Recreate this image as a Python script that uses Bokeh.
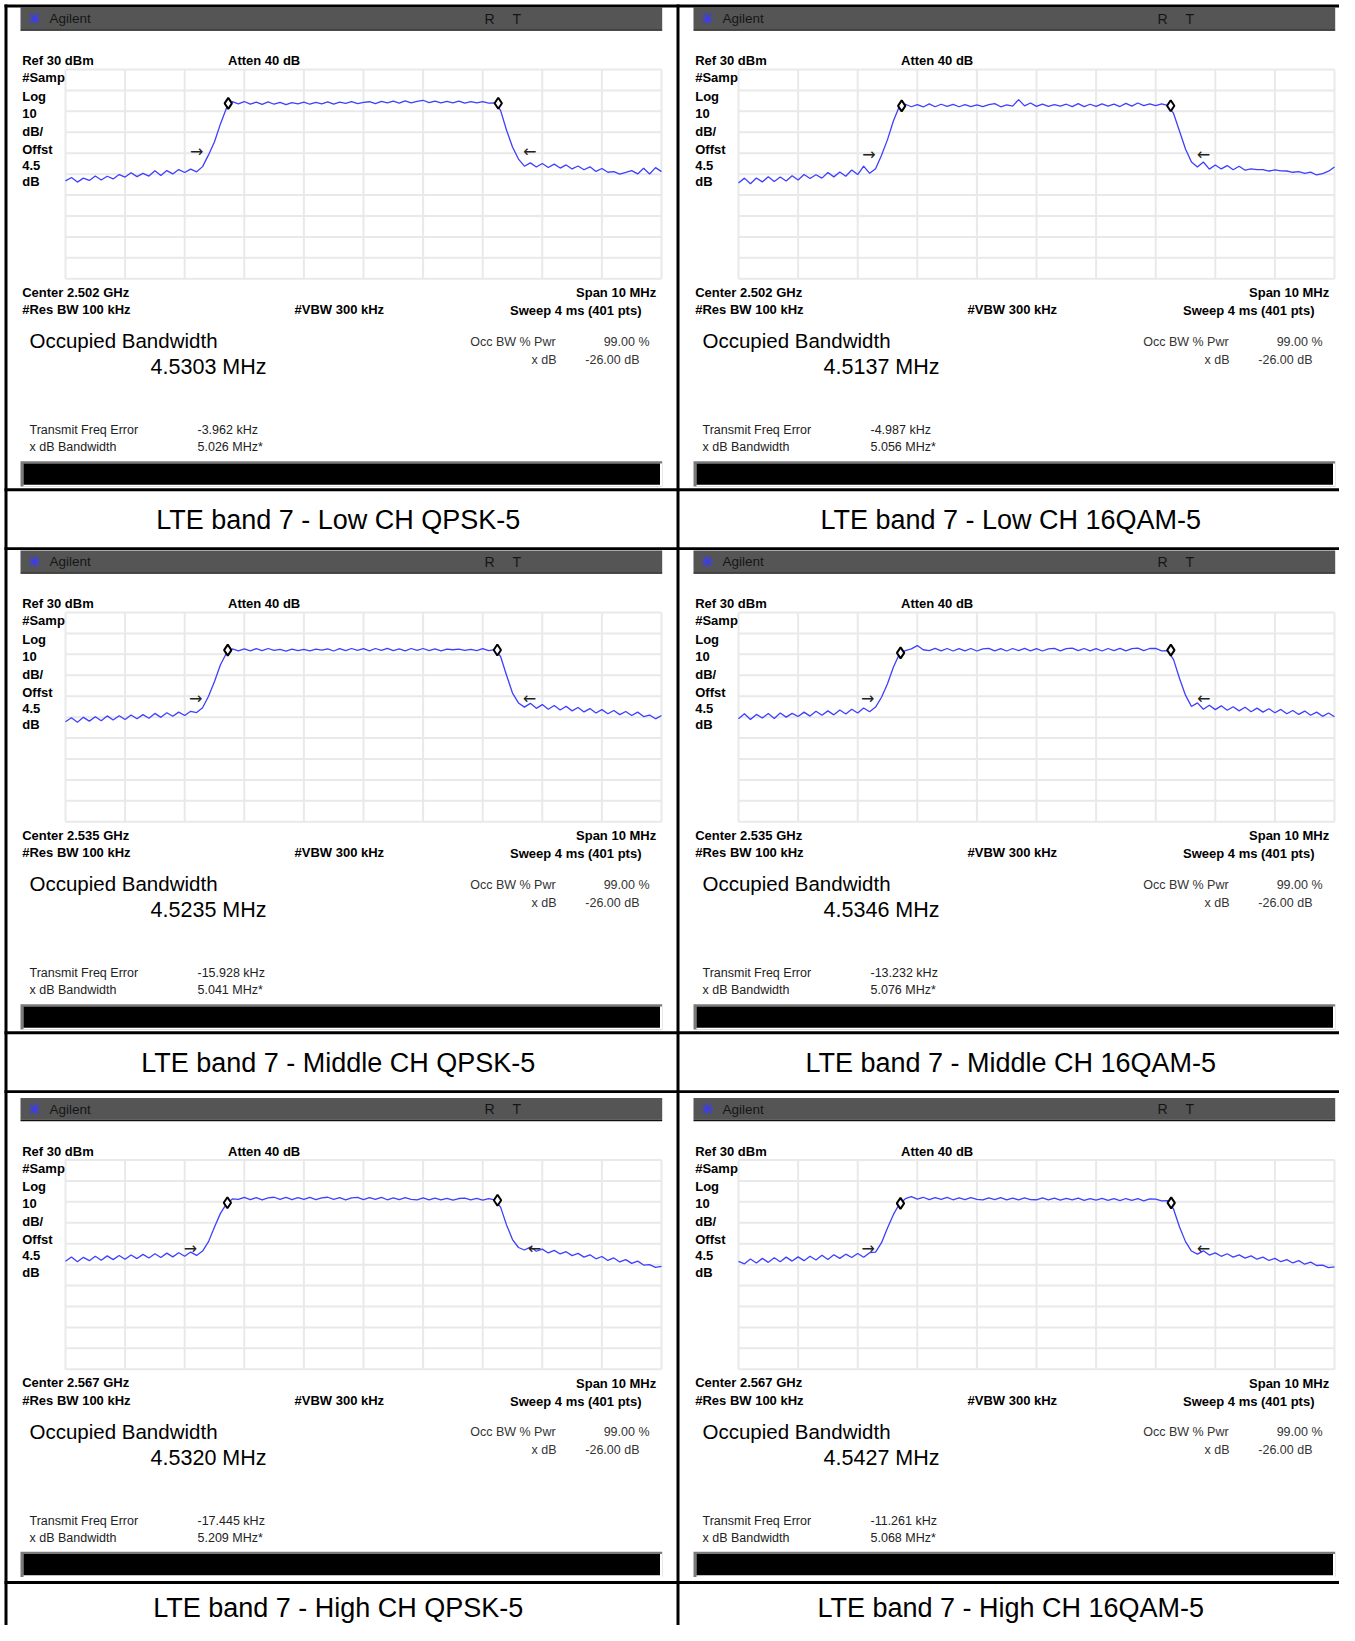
import numpy as np
from bokeh.plotting import figure
from bokeh.models import Range1d, ColumnDataSource
from bokeh.embed import file_html
from bokeh.resources import INLINE
from bokeh.core.properties import value

# ---------------- data ----------------
SPAN_MHZ = 10.0
REF_DBM = 30.0
BOTTOM_DBM = -70.0
FREQ_MHZ = np.round(np.linspace(-5.0, 5.0, 101), 2)   # sweep points (offset from center)

LOW_QPSK = [
    -23.2, -21.6, -23.8, -21.9, -23.0, -20.9, -22.8, -21.0, -22.3, -20.2,
    -21.4, -19.3, -21.2, -19.6, -20.9, -18.4, -20.6, -18.3, -19.9, -17.8,
    -19.2, -17.6, -18.9, -16.4, -10.8, -4.5, 4.0, 11.5, 14.6, 13.6,
    14.7, 13.5, 14.4, 13.3, 14.5, 13.4, 14.3, 13.2, 14.2, 13.6,
    14.4, 13.4, 14.3, 13.6, 14.5, 13.5, 14.4, 13.8, 14.6, 13.7,
    14.3, 14.6, 13.7, 14.8, 14.0, 14.9, 13.9, 15.0, 14.1, 14.8,
    15.3, 14.2, 14.9, 14.0, 14.8, 14.1, 14.9, 13.9, 14.7, 14.0,
    14.6, 13.9, 14.1, 10.5, 1.0, -7.0, -12.8, -16.2, -14.6, -16.6,
    -14.9, -16.8, -15.2, -17.1, -15.6, -17.5, -16.1, -17.9, -16.5, -18.7,
    -17.3, -19.1, -18.8, -20.0, -19.2, -18.3, -19.9, -17.2, -19.9, -16.9,
    -18.8]
LOW_16QAM = [
    -24.2, -21.9, -24.6, -21.8, -23.7, -21.2, -23.5, -21.4, -23.3, -20.8,
    -22.8, -20.2, -22.1, -20.3, -21.9, -19.2, -21.3, -19.0, -21.0, -18.0,
    -20.2, -16.2, -19.6, -17.4, -11.0, -3.5, 5.5, 12.4, 13.4, 12.2,
    13.2, 12.1, 13.6, 12.2, 13.4, 12.4, 13.3, 12.2, 13.2, 12.3,
    13.1, 12.3, 13.2, 13.7, 12.2, 13.1, 12.5, 15.6, 12.6, 14.0,
    12.4, 13.5, 12.4, 13.2, 12.5, 13.4, 12.3, 13.7, 12.3, 13.4,
    12.4, 13.6, 12.5, 13.5, 12.3, 13.8, 12.5, 14.0, 12.7, 13.6,
    12.7, 13.6, 12.9, 9.0, 0.5, -8.0, -14.2, -16.6, -14.2, -17.6,
    -15.6, -17.5, -15.9, -17.9, -16.2, -18.1, -17.5, -17.8, -17.8, -18.5,
    -18.0, -18.4, -18.5, -19.1, -18.8, -19.6, -19.0, -20.4, -19.7, -18.6,
    -16.6]
MID_QPSK = [
    -22.2, -20.3, -22.4, -20.1, -21.9, -19.8, -21.7, -19.4, -21.4, -19.3,
    -21.1, -19.0, -20.8, -18.8, -20.5, -18.2, -20.1, -17.9, -19.6, -17.6,
    -19.2, -17.2, -17.8, -15.5, -10.0, -3.0, 5.0, 10.5, 12.6, 11.7,
    12.6, 11.7, 12.7, 11.8, 12.8, 11.9, 12.4, 11.6, 12.5, 11.8,
    12.4, 11.7, 12.5, 12.0, 12.6, 11.6, 12.7, 11.8, 12.8, 11.9,
    12.7, 11.7, 12.8, 11.9, 12.9, 11.8, 12.6, 11.7, 12.8, 11.9,
    12.8, 11.8, 12.6, 11.7, 12.5, 12.2, 12.5, 11.9, 12.4, 11.8,
    12.7, 11.8, 12.3, 9.0, 0.0, -8.5, -13.2, -15.2, -13.4, -15.8,
    -14.0, -16.2, -14.4, -16.6, -14.8, -17.0, -15.4, -17.5, -15.9, -18.0,
    -16.4, -18.4, -16.8, -18.8, -17.3, -19.2, -17.6, -19.7, -19.0, -20.8,
    -19.2]
MID_16QAM = [
    -20.8, -18.4, -21.1, -18.7, -20.4, -18.3, -20.6, -18.0, -20.0, -18.2,
    -19.7, -17.6, -19.5, -17.2, -19.1, -17.0, -18.9, -16.6, -18.5, -16.2,
    -18.0, -15.6, -17.4, -15.2, -10.5, -4.0, 4.0, 10.2, 11.8, 12.6,
    14.2, 12.2, 11.8, 12.9, 11.7, 12.8, 11.6, 12.7, 11.7, 12.8,
    11.6, 12.6, 12.9, 11.7, 12.7, 11.6, 12.8, 11.8, 12.9, 11.7,
    12.7, 11.6, 12.6, 12.9, 11.7, 12.7, 13.0, 11.8, 12.8, 11.7,
    12.7, 11.6, 12.8, 11.8, 12.9, 11.7, 12.7, 13.0, 11.8, 12.8,
    12.9, 11.7, 11.8, 7.5, -1.5, -9.5, -14.9, -13.2, -16.2, -14.3,
    -16.4, -14.6, -16.7, -15.0, -17.0, -15.3, -17.4, -15.7, -17.6, -16.0,
    -17.9, -16.3, -18.4, -16.8, -18.7, -17.1, -19.1, -17.6, -19.6, -18.0,
    -19.8]
HIGH_QPSK = [
    -18.4, -16.3, -18.6, -16.5, -18.1, -16.0, -17.9, -15.8, -17.6, -15.6,
    -17.4, -15.4, -17.1, -15.1, -16.8, -14.8, -16.6, -14.5, -16.3, -14.3,
    -16.0, -14.0, -15.6, -13.5, -9.0, -2.0, 4.5, 9.0, 11.4, 11.2,
    12.1, 11.1, 12.0, 11.0, 11.9, 12.2, 11.2, 12.1, 11.1, 12.0,
    11.2, 12.1, 11.1, 11.9, 12.2, 11.2, 12.0, 11.0, 11.9, 12.1,
    11.1, 12.0, 11.2, 12.1, 11.0, 11.9, 11.1, 12.0, 11.2, 10.9,
    11.9, 11.0, 11.8, 10.9, 11.7, 10.8, 11.6, 11.8, 10.9, 11.7,
    10.8, 11.6, 10.9, 7.5, -1.0, -8.0, -11.8, -13.0, -11.6, -13.6,
    -12.6, -14.4, -13.2, -14.9, -13.8, -15.7, -14.6, -16.4, -15.3, -17.2,
    -16.1, -18.0, -16.8, -18.7, -17.6, -19.4, -18.3, -20.2, -20.0, -21.3,
    -20.8]
HIGH_16QAM = [
    -18.4, -19.6, -17.3, -19.2, -17.0, -18.9, -16.7, -18.6, -16.4, -18.3,
    -16.3, -18.1, -16.0, -17.8, -15.5, -17.5, -15.3, -17.0, -15.0, -16.6,
    -14.7, -16.5, -14.3, -14.0, -9.5, -2.5, 4.0, 9.0, 11.5, 12.5,
    11.3, 12.2, 11.1, 12.0, 11.2, 12.1, 11.0, 11.9, 11.1, 12.0,
    11.2, 10.9, 11.9, 11.1, 12.0, 11.0, 11.8, 10.9, 11.9, 11.1,
    11.0, 11.9, 10.9, 11.8, 10.8, 11.7, 10.9, 11.8, 10.7, 11.6,
    10.8, 11.7, 10.7, 11.5, 10.6, 11.6, 10.7, 11.5, 10.5, 11.4,
    11.3, 10.5, 10.6, 6.5, -2.0, -9.0, -13.5, -15.0, -13.4, -15.4,
    -14.4, -16.0, -14.8, -16.4, -15.3, -16.9, -15.8, -17.4, -16.4, -18.0,
    -17.0, -18.6, -17.6, -19.2, -18.1, -19.8, -18.8, -20.4, -20.2, -21.4,
    -21.1]

TRACES = [LOW_QPSK, LOW_16QAM, MID_QPSK, MID_16QAM, HIGH_QPSK, HIGH_16QAM]
CENTER_GHZ = ["2.502", "2.502", "2.535", "2.535", "2.567", "2.567"]
OBW_MHZ = [4.5303, 4.5137, 4.5235, 4.5346, 4.5320, 4.5427]
FERR_KHZ = [-3.962, -4.987, -15.928, -13.232, -17.445, -11.261]
XDB_MHZ = [5.026, 5.056, 5.041, 5.076, 5.209, 5.068]
MARKER_DBM = [[13.8, 13.9], [12.6, 12.7], [12.0, 12.1], [10.7, 12.0], [9.6, 10.8], [9.3, 9.5]]
ARROW_DBM = [-9.0, -10.5, -11.2, -11.2, -12.4, -12.4]
CAPTIONS = ["LTE band 7 - Low CH  QPSK-5", "LTE band 7 - Low CH  16QAM-5",
            "LTE band 7 - Middle CH  QPSK-5", "LTE band 7 - Middle CH  16QAM-5",
            "LTE band 7 - High CH  QPSK-5", "LTE band 7 - High CH  16QAM-5"]
LEFT_LABELS = ["#Samp", "Log", "10", "dB/", "Offst", "4.5", "dB"]

# ---------------- layout (reference pixel space, 1:1) ----------------
FW, FH = 1339, 1625
X0B, X1B = 0.0, float(FW)
Y0B, Y1B = 0.0, float(FH)
COL_X0 = [0, 673]
ROW_Y0 = [0, 543, 1090.5]
GX0, GX1, GY0, GY1 = 65.0, 661.0, 69.0, 278.3
CAPTION_Y = [519.5, 1062.5, 1607.0]
CAPTION_X = [341.5, 1014.0]

p = figure(width=FW, height=FH, x_range=Range1d(X0B, X1B), y_range=Range1d(Y1B, Y0B),
           output_backend="svg", toolbar_location=None, min_border=0,
           x_axis_location=None, y_axis_location=None)
p.grid.visible = False
p.outline_line_color = None
p.background_fill_color = "white"
p.border_fill_color = "white"

xr, yr = {}, {}
for c in range(2):
    gx0, gx1 = GX0 + COL_X0[c], GX1 + COL_X0[c]
    k = SPAN_MHZ / (gx1 - gx0)
    xr[f"fx{c}"] = Range1d(-SPAN_MHZ / 2 + (X0B - gx0) * k, -SPAN_MHZ / 2 + (X1B - gx0) * k)
for r in range(3):
    gy0, gy1 = GY0 + ROW_Y0[r], GY1 + ROW_Y0[r]
    k = (REF_DBM - BOTTOM_DBM) / (gy1 - gy0)
    yr[f"dy{r}"] = Range1d(REF_DBM - (Y1B - gy0) * k, REF_DBM - (Y0B - gy0) * k)
p.extra_x_ranges = xr
p.extra_y_ranges = yr

texts = {}
def T(x, y, s, size, bold=False, align="left", color="#000000", font="Liberation Sans"):
    key = (size, bold, align, color, font)
    d = texts.setdefault(key, dict(x=[], y=[], text=[]))
    d["x"].append(x); d["y"].append(y); d["text"].append(s)

quads = {}
def Q(l, r, t, b, color):
    d = quads.setdefault(color, dict(left=[], right=[], top=[], bottom=[]))
    d["left"].append(l); d["right"].append(r); d["top"].append(t); d["bottom"].append(b)

for i in range(6):
    c, r = i % 2, i // 2
    ox, oy = COL_X0[c], ROW_Y0[r]
    # header bar
    Q(20 + ox, 661.7 + ox, 7 + oy, 28.7 + oy, "#555555")
    Q(20 + ox, 661.7 + ox, 28.7 + oy, 30.2 + oy, "#111111")
    T(49 + ox, 18 + oy, "Agilent", 13.5, color="#151515")
    T(484 + ox, 18 + oy, "R", 14, color="#151515")
    T(512 + ox, 18 + oy, "T", 14, color="#151515")
    # instrument labels
    T(21.7 + ox, 60 + oy, "Ref 30 dBm", 13, True)
    T(227.5 + ox, 60 + oy, "Atten 40 dB", 13, True)
    for lab, yy in zip(LEFT_LABELS, [77.3, 95.7, 112.7, 130.7, 148.7, 164.7, 181.3]):
        T(21.7 + ox, yy + oy, lab, 13, True)
    T(21.7 + ox, 291.5 + oy, f"Center {CENTER_GHZ[i]} GHz", 13, True)
    T(655.7 + ox, 292 + oy, "Span 10 MHz", 13, True, "right")
    T(21.7 + ox, 309 + oy, "#Res BW 100 kHz", 13, True)
    T(294 + ox, 309 + oy, "#VBW 300 kHz", 13, True)
    T(641 + ox, 310 + oy, "Sweep 4 ms (401 pts)", 13, True, "right")
    # results
    T(29 + ox, 340 + oy, "Occupied Bandwidth", 20.5)
    T(266 + ox, 366.5 + oy, f"{OBW_MHZ[i]:.4f} MHz", 21.5, align="right")
    T(469.7 + ox, 341 + oy, "Occ BW % Pwr", 12.5, color="#333333")
    T(649 + ox, 341 + oy, "99.00 %", 12.5, align="right", color="#333333")
    T(556 + ox, 359.3 + oy, "x dB", 12.5, align="right", color="#333333")
    T(639 + ox, 359.3 + oy, "-26.00 dB", 12.5, align="right", color="#333333")
    T(29 + ox, 429.5 + oy, "Transmit Freq Error", 12.5, color="#222222")
    T(197 + ox, 429.5 + oy, f"{FERR_KHZ[i]:.3f} kHz", 12.5, color="#222222")
    T(29 + ox, 446.5 + oy, "x dB Bandwidth", 12.5, color="#222222")
    T(197 + ox, 446.5 + oy, f"{XDB_MHZ[i]:.3f} MHz*", 12.5, color="#222222")
    # status bar
    Q(20 + ox, 661.7 + ox, 460.7 + oy, 486 + oy, "#7a7a7a")
    Q(23 + ox, 661.7 + ox, 463 + oy, 486 + oy, "#ffffff")
    Q(23 + ox, 659.5 + ox, 463 + oy, 484.3 + oy, "#000000")
    # caption
    T(CAPTION_X[c], CAPTION_Y[r], CAPTIONS[i], 27, align="center")

# borders
Q(4, 7, 4, 1641, "#000000")
Q(1349, 1352, 4, 1641, "#000000")
Q(4, 1352, 4, 7, "#000000")
Q(676, 679, 4, 1641, "#000000")
for yy in [487.7, 1030.7, 1580.5]:
    Q(4, 1352, yy, yy + 3, "#000000")
for yy in [546.7, 1089.7]:
    Q(4, 1352, yy, yy + 2.7, "#000000")

for color, d in quads.items():
    p.quad(source=ColumnDataSource(d), left="left", right="right", top="top", bottom="bottom",
           fill_color=color, line_color=None)

# header logos
logo_x = [34 + COL_X0[i % 2] for i in range(6)]
logo_y = [18 + ROW_Y0[i // 2] for i in range(6)]
p.scatter(logo_x, logo_y, marker="asterisk", size=12, line_color="#3a3aff", line_width=1.2)

# spectrum panels
freq_lines = list(np.arange(-5, 6, 1.0))
db_lines = list(np.arange(BOTTOM_DBM, REF_DBM + 1, 10.0))
for i in range(6):
    c, r = i % 2, i // 2
    rn = dict(x_range_name=f"fx{c}", y_range_name=f"dy{r}")
    xs = [[f, f] for f in freq_lines] + [[-5, 5] for _ in db_lines]
    ys = [[BOTTOM_DBM, REF_DBM] for _ in freq_lines] + [[d, d] for d in db_lines]
    p.multi_line(xs, ys, line_color="#e9e9e9", line_width=2, **rn)
    p.line(FREQ_MHZ, TRACES[i], line_color="#3f3fff", line_width=1.3, **rn)
    fe = FERR_KHZ[i] / 1000.0
    mx = [fe - OBW_MHZ[i] / 2, fe + OBW_MHZ[i] / 2]
    p.scatter(mx, MARKER_DBM[i], marker="diamond", size=11, fill_color="white",
              line_color="black", line_width=2, **rn)
    ax = [fe - XDB_MHZ[i] / 2 - 0.28, fe + XDB_MHZ[i] / 2 + 0.28]
    p.text(ax, [ARROW_DBM[i]] * 2, text=["→", "←"], text_font=value("DejaVu Sans"),
           text_font_size="16px", text_align="center", text_baseline="middle",
           text_color="#222222", **rn)

for (size, bold, align, color, font), d in texts.items():
    p.text(x="x", y="y", text="text", source=ColumnDataSource(d), text_font=value(font),
           text_font_size=f"{size}px", text_font_style="bold" if bold else "normal",
           text_align=align, text_baseline="middle", text_color=color)

open("out.html", "w").write(file_html(p, INLINE))
